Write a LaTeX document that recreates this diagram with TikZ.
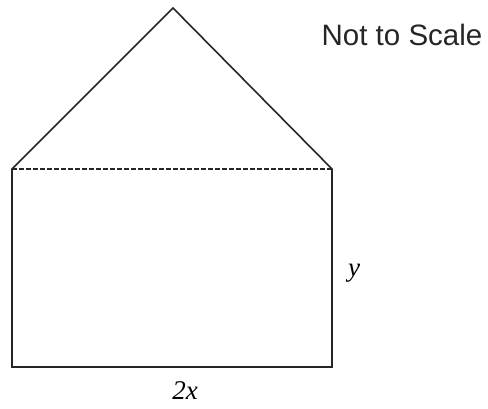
\documentclass[tikz,border=0pt]{standalone}
\usepackage{fontspec}
\setmainfont{Liberation Serif}
\newfontfamily\labelsans{Liberation Sans}
\begin{document}
\begin{tikzpicture}[x=1pt,y=-1pt,
  edge/.style={line width=1.6pt,draw=black!85},
  fold/.style={line width=1.4pt,draw=black!85,dash pattern=on 4.5pt off 2.5pt},
  lbl/.style={font=\fontsize{27}{30}\selectfont\itshape},
  note/.style={font=\labelsans\fontsize{29.5}{33}\selectfont,text=black!85}]
\useasboundingbox (0,0) rectangle (488,409);
\coordinate (apex) at (173,8);
\coordinate (tl) at (12,169);
\coordinate (tr) at (332,169);
\coordinate (br) at (332,367);
\coordinate (bl) at (12,367);
\draw[edge,line join=miter] (tl) -- (apex) -- (tr) -- (br) -- (bl) -- cycle;
\draw[fold] (tl) -- (tr);
\node[note] (nts) at (402,35) {Not to Scale};
\node[lbl] (ylab) at (354,273) {y};
\node[lbl] (xlab) at (185,391) {2x};
\end{tikzpicture}
\end{document}
